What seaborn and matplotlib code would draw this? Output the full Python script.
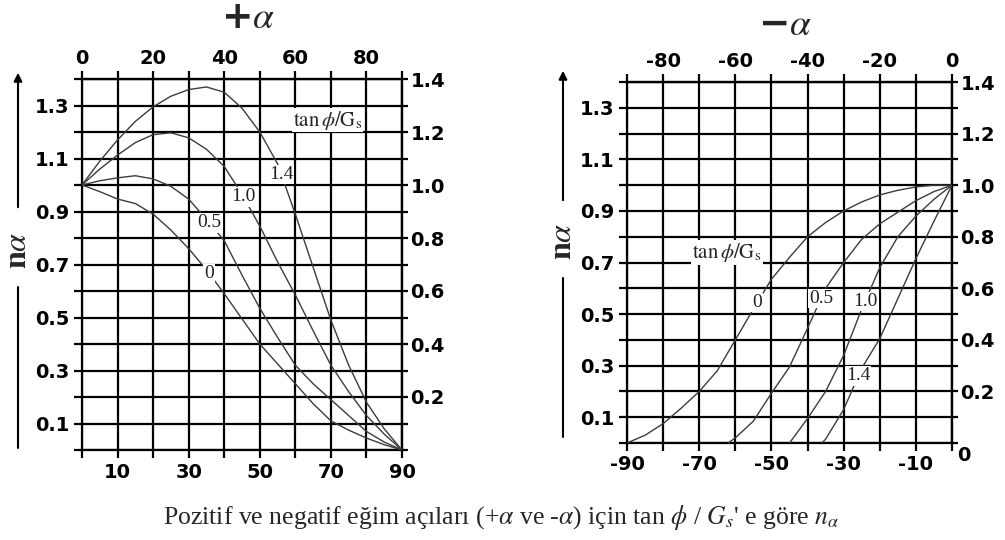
import matplotlib
matplotlib.use("Agg")
import matplotlib.pyplot as plt
import numpy as np
import pandas as pd
import seaborn as sns
from matplotlib.patches import FancyArrowPatch
from matplotlib.lines import Line2D

# tan(phi)/Gs parameter of each curve
ratios = ["0", "0.5", "1.0", "1.4"]

# ---- positive slope angle (+alpha) ----
pos_alpha = [0, 5, 10, 15, 20, 25, 30, 35, 40, 45, 50, 55, 60, 65, 70, 75, 80, 85, 90]
pos_n_0 = [1.0, 0.975, 0.947, 0.93, 0.89, 0.83, 0.76, 0.68, 0.59, 0.495, 0.40, 0.325,
           0.25, 0.175, 0.11, 0.075, 0.045, 0.02, 0.0]
pos_n_05 = [1.0, 1.016, 1.027, 1.035, 1.023, 0.995, 0.947, 0.87, 0.79, 0.66, 0.535, 0.425,
            0.32, 0.25, 0.19, 0.13, 0.07, 0.03, 0.0]
pos_n_10 = [1.0, 1.06, 1.113, 1.16, 1.19, 1.197, 1.178, 1.135, 1.07, 0.965, 0.845, 0.71,
            0.585, 0.45, 0.32, 0.22, 0.13, 0.06, 0.0]
pos_n_14 = [1.0, 1.09, 1.17, 1.24, 1.295, 1.335, 1.36, 1.37, 1.35, 1.29, 1.2, 1.08,
            0.89, 0.69, 0.49, 0.32, 0.18, 0.08, 0.0]

# ---- negative slope angle (-alpha) ----
neg_alpha_0 = [-90, -85, -80, -75, -70, -65, -60, -55, -50, -45, -40, -35, -30, -25, -20, -15, -10, -5, 0]
neg_n_0 = [0.0, 0.03, 0.075, 0.135, 0.2, 0.28, 0.4, 0.52, 0.635, 0.72, 0.8, 0.855, 0.9,
           0.935, 0.962, 0.98, 0.993, 1.0, 1.0]
neg_alpha_05 = [-62, -60, -55, -50, -45, -40, -35, -30, -25, -20, -15, -10, -5, 0]
neg_n_05 = [0.0, 0.02, 0.085, 0.193, 0.295, 0.445, 0.6, 0.7, 0.79, 0.85, 0.895, 0.94, 0.975, 1.0]
neg_alpha_10 = [-45, -40, -35, -30, -25, -20, -15, -10, -5, 0]
neg_n_10 = [0.0, 0.095, 0.2, 0.34, 0.52, 0.68, 0.8, 0.88, 0.945, 1.0]
neg_alpha_14 = [-36, -35, -30, -25, -20, -15, -10, -5, 0]
neg_n_14 = [0.0, 0.015, 0.13, 0.29, 0.405, 0.56, 0.715, 0.86, 1.0]

# curve label anchor points (alpha, n)
pos_label_pts = {"0": (35.8, 0.665), "0.5": (35.8, 0.857), "1.0": (45.4, 0.955), "1.4": (56.0, 1.04)}
neg_label_pts = {"0": (-54.0, 0.545), "0.5": (-36.2, 0.56), "1.0": (-24.0, 0.55), "1.4": (-26.0, 0.26)}

# tick positions and labels ("" = unlabelled grid tick)
pos_ticks = list(range(0, 91, 10))
pos_bottom_labels = ["", "10", "", "30", "", "50", "", "70", "", "90"]
pos_top_labels = ["0", "", "20", "", "40", "", "60", "", "80", ""]
neg_ticks = list(range(-90, 1, 10))
neg_bottom_labels = ["-90", "", "-70", "", "-50", "", "-30", "", "-10", ""]
neg_top_labels = ["", "-80", "", "-60", "", "-40", "", "-20", "", "0"]
n_ticks = [0.0, 0.1, 0.2, 0.3, 0.4, 0.5, 0.6, 0.7, 0.8, 0.9, 1.0, 1.1, 1.2, 1.3, 1.4]
left_n_labels = ["", "0.1", "", "0.3", "", "0.5", "", "0.7", "", "0.9", "", "1.1", "", "1.3", ""]
right_n_labels = ["", "", "0.2", "", "0.4", "", "0.6", "", "0.8", "", "1.0", "", "1.2", "", "1.4"]

ratio_heading = r"$\mathrm{tan}\,\phi/\mathrm{G}_\mathrm{s}$"
caption = (r"Pozitif ve negatif eğim açıları (+$\alpha$ ve -$\alpha$) için tan $\phi$ / "
           r"$G_s$' e göre $n_\alpha$")

pos_df = pd.concat([
    pd.DataFrame({"alpha": pos_alpha, "n": vals, "ratio": r})
    for r, vals in zip(ratios, [pos_n_0, pos_n_05, pos_n_10, pos_n_14])
], ignore_index=True)
neg_df = pd.concat([
    pd.DataFrame({"alpha": a, "n": v, "ratio": r})
    for r, a, v in zip(ratios, [neg_alpha_0, neg_alpha_05, neg_alpha_10, neg_alpha_14],
                       [neg_n_0, neg_n_05, neg_n_10, neg_n_14])
], ignore_index=True)

sns.set_theme(style="white")
plt.rcParams["font.family"] = ["DejaVu Sans"]
plt.rcParams["mathtext.fontset"] = "stix"

W, H = 1005, 540
fig = plt.figure(figsize=(W / 100, H / 100), dpi=100)
fig.patch.set_facecolor("white")

GRID_LW = 1.6
CURVE_COLOR = "#3c3c3c"
TICK_KW = dict(fontsize=14, fontweight="bold", color="black")


def pix_rect(x0, y0, x1, y1):
    return [x0 / W, (H - y1) / H, (x1 - x0) / W, (y1 - y0) / H]


def style_axis(ax, xlim, xticks, bottom_labels, top_labels):
    ax.set_xlim(*xlim)
    ax.set_ylim(0, 1.4)
    ax.set_xticks(xticks, bottom_labels, **TICK_KW)
    ax.set_yticks(n_ticks, left_n_labels, **TICK_KW)
    ax.grid(True, color="black", lw=GRID_LW)
    for s in ax.spines.values():
        s.set_color("black")
        s.set_linewidth(GRID_LW)
    ax.tick_params(axis="both", direction="out", length=6, width=GRID_LW,
                   color="black", pad=3, left=True, bottom=True)
    ax.set_xlabel("")
    ax.set_ylabel("")

    top = ax.secondary_xaxis("top")
    top.set_xticks(xticks, top_labels, **TICK_KW)
    top.tick_params(direction="out", length=6, width=GRID_LW, color="black", pad=2)
    top.spines["top"].set_linewidth(GRID_LW)

    right = ax.secondary_yaxis("right")
    right.set_yticks(n_ticks, right_n_labels, **TICK_KW)
    right.tick_params(direction="out", length=4, width=GRID_LW, color="black", pad=2)
    right.spines["right"].set_linewidth(GRID_LW)


def draw_curves(ax, df, label_pts):
    sns.lineplot(data=df, x="alpha", y="n", hue="ratio", hue_order=ratios,
                 palette=[CURVE_COLOR] * 4, estimator=None, sort=False,
                 legend=False, lw=1.0, ax=ax, zorder=3)
    for r in ratios:
        x, y = label_pts[r]
        ax.text(x, y, r, fontsize=14, family="Liberation Serif", color="#222222",
                ha="center", va="center", zorder=5,
                bbox=dict(boxstyle="square,pad=0.06", fc="white", ec="none"))


# left panel: +alpha
ax1 = fig.add_axes(pix_rect(82, 79, 402, 450))
draw_curves(ax1, pos_df, pos_label_pts)
style_axis(ax1, (0, 90), pos_ticks, pos_bottom_labels, pos_top_labels)
ax1.text(69.0, 1.245, ratio_heading, fontsize=15, ha="center", va="center", zorder=5,
         bbox=dict(boxstyle="square,pad=0.04", fc="white", ec="none"))

# right panel: -alpha
ax2 = fig.add_axes(pix_rect(627, 82, 952, 443))
draw_curves(ax2, neg_df, neg_label_pts)
style_axis(ax2, (-90, 0), neg_ticks, neg_bottom_labels, neg_top_labels)
ax2.text(-62.3, 0.74, ratio_heading, fontsize=15, ha="center", va="center", zorder=5,
         bbox=dict(boxstyle="square,pad=0.04", fc="white", ec="none"))
ax2.annotate("0", xy=(1, 0), xycoords="axes fraction", xytext=(4, -2),
             textcoords="offset points", ha="left", va="top", **TICK_KW)

# panel headings
fig.text(248 / W, 1 - 18 / H, r"+$\alpha$", fontsize=27, fontweight="bold",
         ha="center", va="center")
fig.text(785 / W, 1 - 25 / H, r"−$\alpha$", fontsize=27, fontweight="bold",
         ha="center", va="center")


def n_alpha_label(x, arrow_top, arrow_bot, text_y, line_top, line_bot):
    fig.add_artist(FancyArrowPatch((x / W, 1 - arrow_bot / H), (x / W, 1 - arrow_top / H),
                                   transform=fig.transFigure, arrowstyle="-|>",
                                   mutation_scale=12, lw=1.5, color="black"))
    fig.add_artist(Line2D([x / W, x / W], [1 - line_top / H, 1 - line_bot / H],
                          transform=fig.transFigure, lw=1.5, color="black"))
    fig.text(x / W, 1 - text_y / H, r"n$\alpha$", rotation=90, fontsize=23,
             family="Liberation Serif", fontweight="bold", ha="center", va="center")


n_alpha_label(18, 70, 210, 250, 287, 448)
n_alpha_label(563, 68, 203, 241, 278, 437)

fig.text(501 / W, 1 - 518 / H, caption, fontsize=18.5, family="Liberation Serif",
         ha="center", va="center")

fig.savefig("out.png", dpi=100, facecolor="white")
